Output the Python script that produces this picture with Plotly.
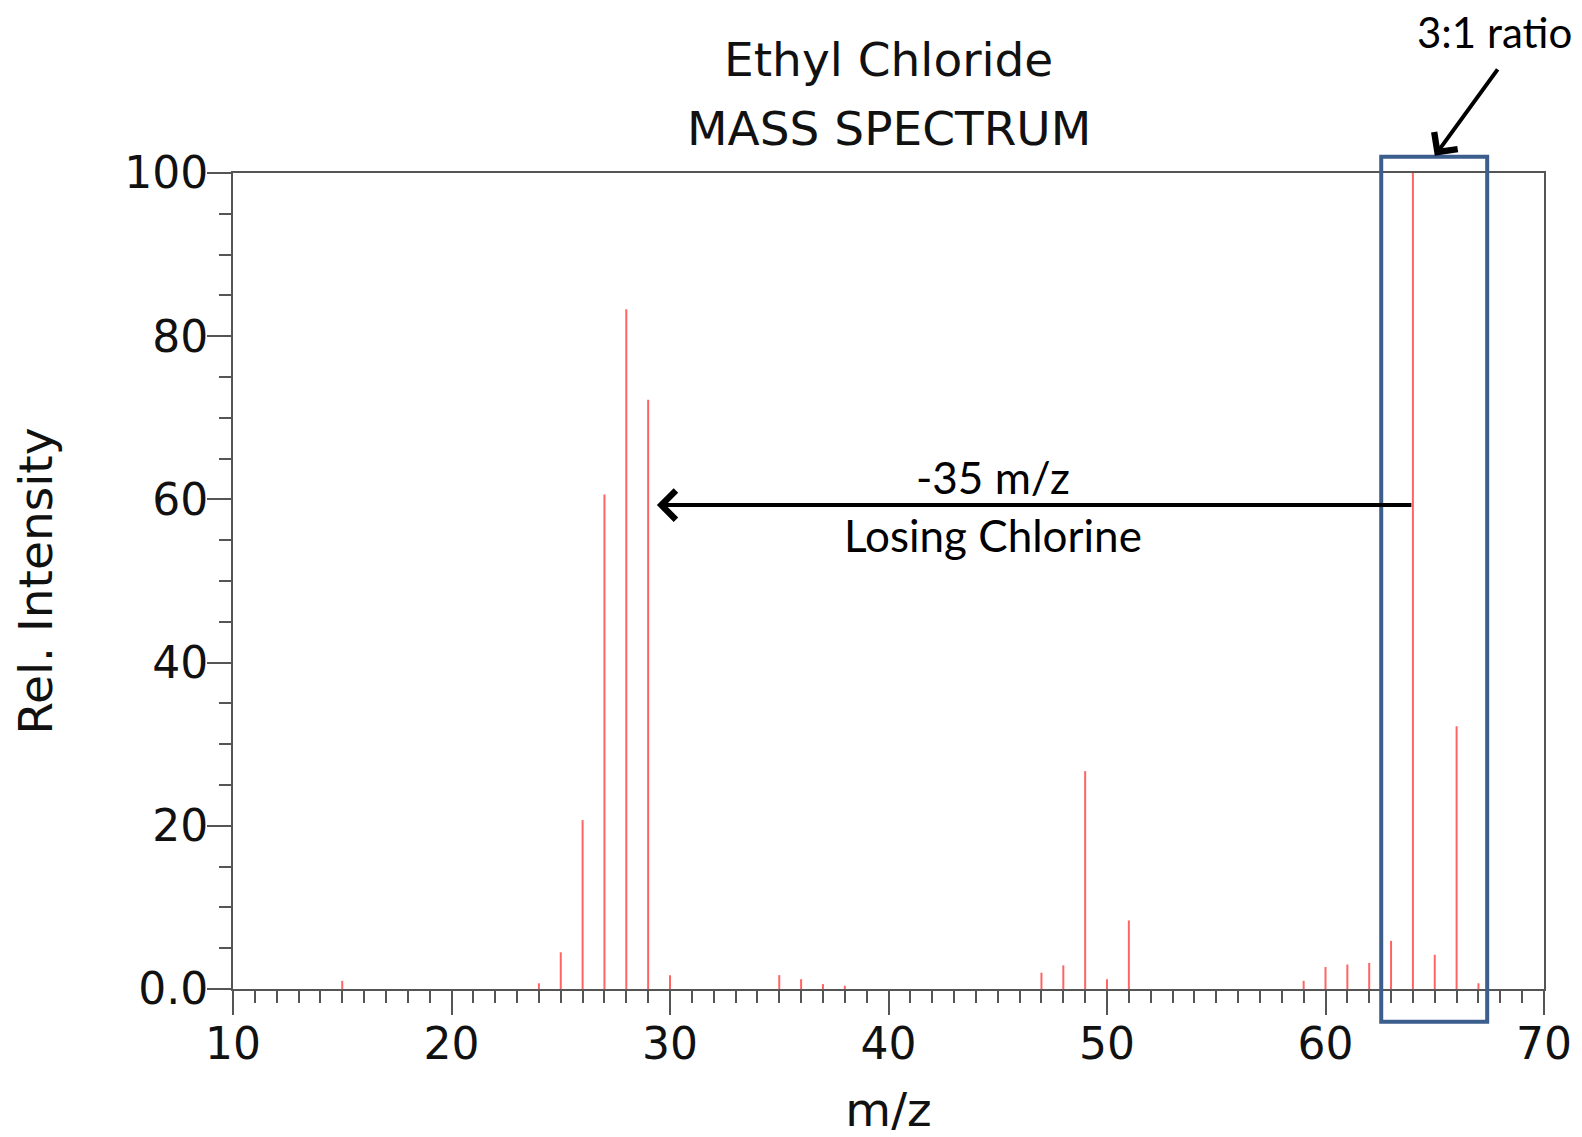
import plotly.graph_objects as go

# ---- data ----
mz = [15, 24, 25, 26, 27, 28, 29, 30, 35, 36, 37, 38, 47, 48, 49, 50, 51,
      59, 60, 61, 62, 63, 64, 65, 66, 67]
intensity = [1.0, 0.7, 4.5, 20.7, 60.6, 83.3, 72.2, 1.7, 1.7, 1.2, 0.6, 0.4, 2.0, 2.9, 26.7, 1.2, 8.4,
             1.0, 2.7, 3.0, 3.2, 5.9, 100.0, 4.2, 32.2, 0.7]
y_tickvals = [0, 20, 40, 60, 80, 100]
y_ticktext = ["0.0", "20", "40", "60", "80", "100"]
x_tickvals = [10, 20, 30, 40, 50, 60, 70]

# stems
xs, ys = [], []
for m, v in zip(mz, intensity):
    xs += [m, m, None]
    ys += [0, v, None]

TICKFONT = dict(family="DejaVu Sans", size=44, color="#111111")
TITLEFONT = dict(family="DejaVu Sans", size=47, color="#111111")
NOTEFONT = dict(family="Lato", size=44, color="black")
AXCOL = "#555555"

fig = go.Figure()
fig.add_trace(go.Scatter(x=xs, y=ys, mode="lines",
                         line=dict(color="rgb(255,100,100)", width=2),
                         hoverinfo="skip", showlegend=False))

# page body has an 8px margin, so the figure is sized to fit inside the window
fig.update_layout(
    width=1574, height=1129,
    margin=dict(l=225, r=38, t=165, b=148, autoexpand=False),
    plot_bgcolor="white", paper_bgcolor="white",
    showlegend=False,
)

fig.update_xaxes(
    range=[10, 70], tickvals=x_tickvals, ticks="outside", ticklen=24, tickwidth=2,
    tickcolor=AXCOL, showline=True, linecolor=AXCOL, linewidth=2, mirror=True,
    showgrid=False, zeroline=False, tickfont=TICKFONT, automargin=False, ticklabelstandoff=-9,
    minor=dict(dtick=1, tick0=10, ticks="outside", ticklen=12, tickwidth=2, tickcolor=AXCOL, showgrid=False),
    title=dict(text="m/z", font=TITLEFONT, standoff=42),
)
fig.update_yaxes(
    range=[0, 100], tickvals=y_tickvals, ticktext=y_ticktext, ticks="outside", ticklen=24, tickwidth=1.5,
    tickcolor=AXCOL, showline=True, linecolor=AXCOL, linewidth=2, mirror=True,
    showgrid=False, zeroline=False, tickfont=TICKFONT, automargin=False, ticklabelstandoff=-10,
    minor=dict(dtick=5, tick0=0, ticks="outside", ticklen=12, tickwidth=1.5, tickcolor=AXCOL, showgrid=False),
    title=dict(text="Rel. Intensity", font=TITLEFONT, standoff=58),
)

# title lines
fig.add_annotation(text="Ethyl Chloride", xref="paper", yref="paper", x=0.5, y=1.1386,
                   showarrow=False, font=TITLEFONT, xanchor="center", yanchor="middle")
fig.add_annotation(text="MASS SPECTRUM", xref="paper", yref="paper", x=0.5, y=1.0546,
                   showarrow=False, font=TITLEFONT, xanchor="center", yanchor="middle")

# highlight box around the molecular ion cluster
fig.add_shape(type="rect", xref="x", yref="paper", x0=62.55, x1=67.4, y0=-0.04, y1=1.02,
              line=dict(color="#3B5E8C", width=4), fillcolor="rgba(0,0,0,0)", layer="above")

# -35 m/z arrow
fig.add_annotation(x=29.4, y=59.3, ax=64, ay=59.3, xref="x", yref="y", axref="x", ayref="y",
                   text="", showarrow=True, arrowhead=4, arrowsize=1.4, arrowwidth=4, arrowcolor="black")
fig.add_annotation(text="-35 m/z", x=44.8, y=62.7, xref="x", yref="y", showarrow=False,
                   font=NOTEFONT, yanchor="middle")
fig.add_annotation(text="Losing Chlorine", x=44.8, y=55.6, xref="x", yref="y", showarrow=False,
                   font=NOTEFONT, yanchor="middle")

# 3:1 ratio
fig.add_annotation(text="3:1 ratio", xref="x", yref="paper", x=67.72, y=1.173, xanchor="center",
                   yanchor="middle", showarrow=False, font=dict(family="Lato", size=42, color="black"))
fig.add_annotation(x=65.0, y=1.021, xref="x", yref="paper", ax=64, ay=-88, text="",
                   showarrow=True, arrowhead=4, arrowsize=1.4, arrowwidth=4, arrowcolor="black")

fig.write_html("out.html")
